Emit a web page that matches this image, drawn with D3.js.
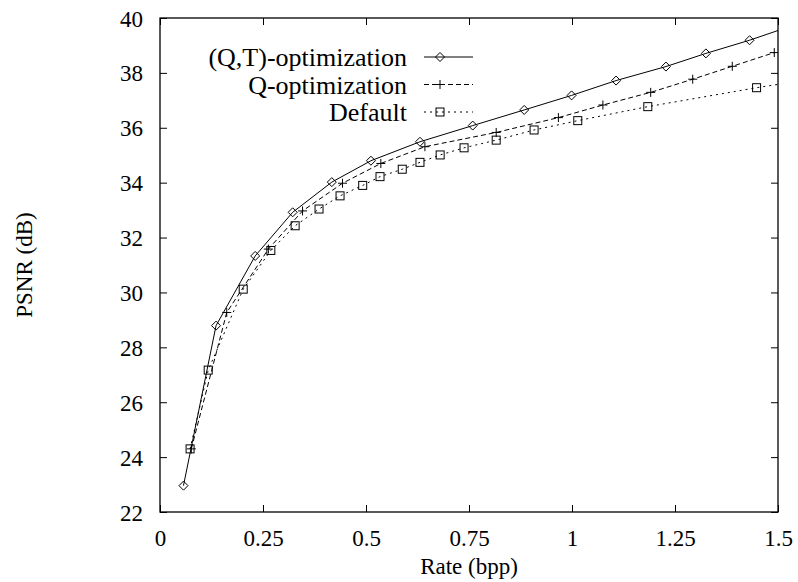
<!DOCTYPE html>
<html>
<head>
<meta charset="utf-8">
<script src="https://cdn.jsdelivr.net/npm/d3@7/dist/d3.min.js"></script>
<style>
  html, body { margin: 0; padding: 0; background: #fff; }
  svg { display: block; }
</style>
</head>
<body>
<svg id="chart" width="798" height="582"></svg>
<script>
// Rate–distortion curves: PSNR (dB) versus rate (bits per pixel)
const qtRate = [0.057, 0.136, 0.231, 0.322, 0.417, 0.512, 0.631, 0.759, 0.884, 0.999, 1.107, 1.228, 1.325, 1.431, 1.54];
const qtPsnr = [22.96, 28.79, 31.33, 32.92, 34.02, 34.80, 35.49, 36.08, 36.65, 37.18, 37.72, 38.23, 38.71, 39.19, 39.75];

const qRate = [0.076, 0.162, 0.263, 0.346, 0.443, 0.536, 0.643, 0.816, 0.967, 1.075, 1.191, 1.293, 1.389, 1.491];
const qPsnr = [24.30, 29.27, 31.58, 32.97, 33.98, 34.70, 35.31, 35.83, 36.37, 36.83, 37.29, 37.77, 38.24, 38.74];

const defRate = [0.073, 0.117, 0.202, 0.269, 0.328, 0.386, 0.437, 0.492, 0.534, 0.588, 0.631, 0.680, 0.738, 0.816, 0.908, 1.014, 1.184, 1.448, 1.62];
const defPsnr = [24.30, 27.17, 30.12, 31.53, 32.43, 33.04, 33.52, 33.90, 34.22, 34.49, 34.74, 35.01, 35.27, 35.55, 35.92, 36.26, 36.77, 37.46, 37.86];

const seriesNames = ["(Q,T)-optimization", "Q-optimization", "Default"];
const xTicks = [0, 0.25, 0.5, 0.75, 1, 1.25, 1.5];
const xTickLabels = ["0", "0.25", "0.5", "0.75", "1", "1.25", "1.5"];
const yTicks = [22, 24, 26, 28, 30, 32, 34, 36, 38, 40];
const xLabel = "Rate (bpp)";
const yLabel = "PSNR (dB)";

const serif = '"Liberation Serif", "Times New Roman", Times, serif';

const svg = d3.select("#chart");
const plotL = 160, plotR = 778, plotT = 18, plotB = 512;

const x = d3.scaleLinear().domain([0, 1.5]).range([plotL, plotR]);
const y = d3.scaleLinear().domain([22, 40]).range([plotB, plotT]);

const zip = (xs, ys) => xs.map((v, i) => ({ x: v, y: ys[i] }));
const series = [
  { name: seriesNames[0], pts: zip(qtRate, qtPsnr), dash: null, marker: "diamond" },
  { name: seriesNames[1], pts: zip(qRate, qPsnr), dash: "5,3", marker: "plus" },
  { name: seriesNames[2], pts: zip(defRate, defPsnr), dash: "2,4", marker: "square" }
];

svg.append("defs").append("clipPath").attr("id", "plot-clip")
  .append("rect").attr("x", plotL).attr("y", plotT)
  .attr("width", plotR - plotL).attr("height", plotB - plotT);

// Axes with inward ticks, mirrored on top and right
const tickLen = 7;
const fontTick = 23;

const gx = svg.append("g").attr("transform", `translate(0,${plotB})`)
  .call(d3.axisBottom(x).tickValues(xTicks).tickSizeInner(-tickLen).tickSizeOuter(0)
    .tickPadding(0).tickFormat((d, i) => xTickLabels[i]));
gx.selectAll("text").attr("y", 34).attr("dy", null);

const gxTop = svg.append("g").attr("transform", `translate(0,${plotT})`)
  .call(d3.axisTop(x).tickValues(xTicks).tickSizeInner(-tickLen).tickSizeOuter(0).tickFormat(""));

const gy = svg.append("g").attr("transform", `translate(${plotL},0)`)
  .call(d3.axisLeft(y).tickValues(yTicks).tickSizeInner(-tickLen).tickSizeOuter(0)
    .tickPadding(17).tickFormat(d3.format("d")));
gy.selectAll("text").attr("dy", "0.35em");

const gyRight = svg.append("g").attr("transform", `translate(${plotR},0)`)
  .call(d3.axisRight(y).tickValues(yTicks).tickSizeInner(-tickLen).tickSizeOuter(0).tickFormat(""));

[gx, gxTop, gy, gyRight].forEach(g => {
  g.attr("font-family", serif).attr("font-size", fontTick);
  g.select(".domain").remove();
  g.selectAll(".tick line").attr("stroke", "#000").attr("stroke-width", 1);
  g.selectAll("text").attr("fill", "#000");
});

// Plot frame
svg.append("rect").attr("x", plotL).attr("y", plotT)
  .attr("width", plotR - plotL).attr("height", plotB - plotT)
  .attr("fill", "none").attr("stroke", "#000").attr("stroke-width", 1.3);

// Axis titles
svg.append("text").attr("x", (plotL + plotR) / 2).attr("y", 574)
  .attr("text-anchor", "middle").attr("font-family", serif).attr("font-size", 23).text(xLabel);
svg.append("text")
  .attr("transform", `translate(32,${(plotT + plotB) / 2}) rotate(-90)`)
  .attr("text-anchor", "middle").attr("font-family", serif).attr("font-size", 23).text(yLabel);

// Point markers
function drawMarker(g, type, cx, cy) {
  if (type === "diamond") {
    const r = 4.5;
    g.append("path")
      .attr("d", `M${cx},${cy - r}L${cx + r},${cy}L${cx},${cy + r}L${cx - r},${cy}Z`)
      .attr("fill", "none").attr("stroke", "#000").attr("stroke-width", 1);
  } else if (type === "plus") {
    const r = 4.5;
    g.append("path")
      .attr("d", `M${cx - r},${cy}H${cx + r}M${cx},${cy - r}V${cy + r}`)
      .attr("fill", "none").attr("stroke", "#000").attr("stroke-width", 1);
  } else {
    const r = 4;
    g.append("rect").attr("x", cx - r).attr("y", cy - r)
      .attr("width", 2 * r).attr("height", 2 * r)
      .attr("fill", "none").attr("stroke", "#000").attr("stroke-width", 1);
  }
}

const line = d3.line().x(d => x(d.x)).y(d => y(d.y));
const plot = svg.append("g").attr("clip-path", "url(#plot-clip)");

series.forEach(s => {
  plot.append("path").datum(s.pts)
    .attr("d", line)
    .attr("fill", "none").attr("stroke", "#000").attr("stroke-width", 1)
    .attr("stroke-dasharray", s.dash);
  const mg = plot.append("g");
  s.pts.filter(p => p.x <= 1.5).forEach(p => drawMarker(mg, s.marker, x(p.x), y(p.y)));
});

// Legend
const legendX0 = 424, legendX1 = 473, legendMark = 440;
const legendRows = [57, 84.5, 112];
series.forEach((s, i) => {
  const ly = legendRows[i];
  svg.append("text").attr("x", 407).attr("y", ly + 9)
    .attr("text-anchor", "end").attr("font-family", serif).attr("font-size", 26).text(s.name);
  svg.append("line").attr("x1", legendX0).attr("x2", legendX1)
    .attr("y1", ly).attr("y2", ly)
    .attr("stroke", "#000").attr("stroke-width", 1)
    .attr("stroke-dasharray", s.dash);
  drawMarker(svg, s.marker, legendMark, ly);
});
</script>
</body>
</html>
